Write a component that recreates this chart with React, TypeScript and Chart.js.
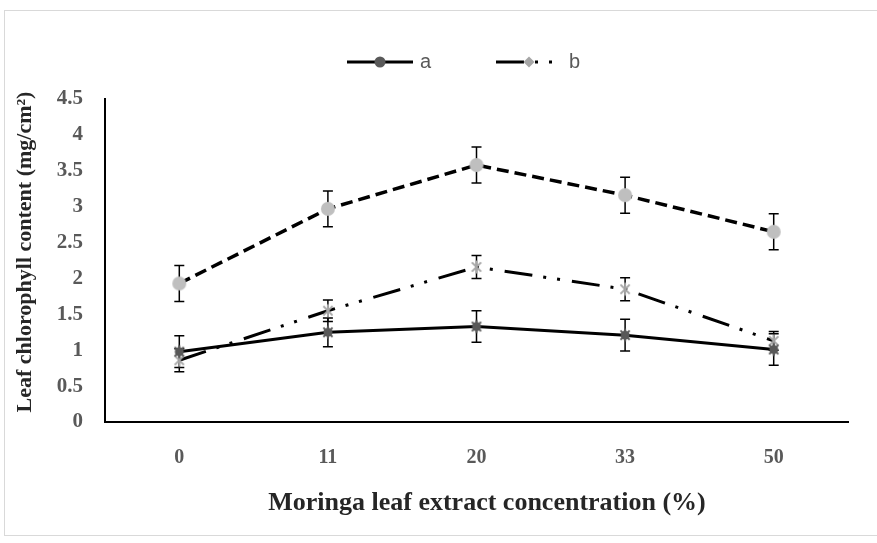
import React, { useEffect, useRef } from "react";
import { Chart, registerables } from "chart.js";

Chart.register(...registerables);

// ---- data ----
const categories = ["0", "11", "20", "33", "50"];
const seriesA = [0.98, 1.25, 1.33, 1.21, 1.01];
const errorsA = [0.22, 0.2, 0.22, 0.22, 0.22];
const seriesB = [0.86, 1.55, 2.16, 1.85, 1.13];
const errorsB = [0.16, 0.15, 0.16, 0.16, 0.13];
const seriesC = [1.93, 2.97, 3.58, 3.16, 2.65];
const errorsC = [0.25, 0.25, 0.25, 0.25, 0.25];
const legendLabels = ["a", "b"];
const yMin = 0;
const yMax = 4.5;
const yStep = 0.5;
const xTitle = "Moringa leaf extract concentration (%)";
const yTitle = "Leaf chlorophyll content (mg/cm\u00B2)";

const SERIF = "'Liberation Serif', 'Times New Roman', serif";
const SANS = "'Liberation Sans', Arial, sans-serif";
const DASH_B = [28, 11, 3, 11, 3, 12];
const DASH_C = [12, 6];

function makeMarker(kind: string): HTMLCanvasElement {
  const c = document.createElement("canvas");
  c.width = 16;
  c.height = 16;
  const ctx = c.getContext("2d")!;
  const cx = 8, cy = 8;
  if (kind === "circleLight") {
    ctx.fillStyle = "#bfbfbf";
    ctx.beginPath();
    ctx.arc(cx, cy, 7, 0, Math.PI * 2);
    ctx.fill();
  } else {
    const col = kind === "starDark" ? "#595959" : "#a6a6a6";
    if (kind === "starDark") {
      ctx.fillStyle = col;
      ctx.beginPath();
      ctx.arc(cx, cy, 4.5, 0, Math.PI * 2);
      ctx.fill();
    }
    ctx.strokeStyle = col;
    ctx.lineWidth = 2;
    const r = 6.5;
    const d = r * Math.SQRT1_2;
    ctx.beginPath();
    ctx.moveTo(cx - d, cy - d); ctx.lineTo(cx + d, cy + d);
    ctx.moveTo(cx + d, cy - d); ctx.lineTo(cx - d, cy + d);
    ctx.moveTo(cx, cy - r); ctx.lineTo(cx, cy + r);
    ctx.stroke();
  }
  return c;
}

const errorBarPlugin = {
  id: "errorBars",
  beforeDatasetsDraw(chart: any) {
    const ctx = chart.ctx;
    const xs = chart.scales.x;
    const ys = chart.scales.y;
    ctx.save();
    ctx.strokeStyle = "#000";
    ctx.lineWidth = 1.5;
    chart.data.datasets.forEach((ds: any) => {
      const errs: number[] = ds.errors || [];
      ds.data.forEach((v: number, i: number) => {
        const e = errs[i];
        if (e == null) return;
        const x = xs.getPixelForValue(i);
        const yt = ys.getPixelForValue(v + e);
        const yb = ys.getPixelForValue(v - e);
        ctx.beginPath();
        ctx.moveTo(x, yt); ctx.lineTo(x, yb);
        ctx.moveTo(x - 5, yt); ctx.lineTo(x + 5, yt);
        ctx.moveTo(x - 5, yb); ctx.lineTo(x + 5, yb);
        ctx.stroke();
      });
    });
    ctx.restore();
  },
};

const titlesPlugin = {
  id: "axisTitles",
  afterDraw(chart: any) {
    const ctx = chart.ctx;
    ctx.save();
    ctx.fillStyle = "#262626";
    ctx.textAlign = "center";
    ctx.textBaseline = "middle";
    ctx.font = `bold 26px ${SERIF}`;
    ctx.fillText(xTitle, 487, 503);
    ctx.translate(25, 252);
    ctx.rotate(-Math.PI / 2);
    ctx.font = `bold 22px ${SERIF}`;
    ctx.fillText(yTitle, 0, 0);
    ctx.restore();
  },
};

const legendPlugin = {
  id: "customLegend",
  afterDraw(chart: any) {
    const ctx = chart.ctx;
    const y = 62;
    ctx.save();
    // item a
    let x0 = 347;
    ctx.strokeStyle = "#000";
    ctx.lineWidth = 3;
    ctx.setLineDash([]);
    ctx.beginPath();
    ctx.moveTo(x0, y); ctx.lineTo(x0 + 66, y);
    ctx.stroke();
    ctx.fillStyle = "#595959";
    ctx.beginPath();
    ctx.arc(x0 + 33, y, 5.5, 0, Math.PI * 2);
    ctx.fill();
    ctx.font = `20px ${SANS}`;
    ctx.fillStyle = "#595959";
    ctx.textBaseline = "middle";
    ctx.textAlign = "left";
    ctx.fillText(legendLabels[0], x0 + 73, y);
    // item b
    x0 = 496;
    ctx.setLineDash(DASH_B);
    ctx.beginPath();
    ctx.moveTo(x0, y); ctx.lineTo(x0 + 66, y);
    ctx.stroke();
    ctx.setLineDash([]);
    ctx.fillStyle = "#a6a6a6";
    ctx.beginPath();
    const dx = x0 + 33;
    ctx.moveTo(dx, y - 5.5); ctx.lineTo(dx + 5.5, y); ctx.lineTo(dx, y + 5.5); ctx.lineTo(dx - 5.5, y);
    ctx.closePath();
    ctx.fill();
    ctx.fillStyle = "#595959";
    ctx.fillText(legendLabels[1], x0 + 73, y);
    ctx.restore();
  },
};

export default function App() {
  const ref = useRef<HTMLCanvasElement | null>(null);
  useEffect(() => {
    document.body.style.margin = "0";
    if (!ref.current) return;
    const chart = new Chart(ref.current, {
      type: "line",
      data: {
        labels: categories,
        datasets: [
          {
            label: legendLabels[0],
            data: seriesA,
            errors: errorsA,
            borderColor: "#000",
            borderWidth: 3,
            pointStyle: makeMarker("starDark"),
            pointRadius: 7,
            tension: 0,
            fill: false,
          } as any,
          {
            label: legendLabels[1],
            data: seriesB,
            errors: errorsB,
            borderColor: "#000",
            borderWidth: 3,
            borderDash: DASH_B,
            pointStyle: makeMarker("starLight"),
            pointRadius: 7,
            tension: 0,
            fill: false,
          } as any,
          {
            label: "c",
            data: seriesC,
            errors: errorsC,
            borderColor: "#000",
            borderWidth: 3.5,
            borderDash: DASH_C,
            pointStyle: makeMarker("circleLight"),
            pointRadius: 7,
            tension: 0,
            fill: false,
          } as any,
        ],
      },
      options: {
        animation: false,
        responsive: false,
        layout: { padding: { top: 99, right: 29, left: 0, bottom: 0 } },
        plugins: { legend: { display: false }, tooltip: { enabled: false } },
        scales: {
          x: {
            offset: true,
            grid: { display: false, drawTicks: false },
            border: { display: true, color: "#000", width: 2 },
            ticks: {
              color: "#595959",
              font: { family: SERIF, size: 20, weight: "bold" },
              padding: 24,
              maxRotation: 0,
              autoSkip: false,
            },
            title: { display: false },
            afterFit: (s: any) => { s.height = 121; },
          },
          y: {
            min: yMin,
            max: yMax,
            grid: { display: false, drawTicks: false },
            border: { display: true, color: "#000", width: 2 },
            ticks: {
              stepSize: yStep,
              color: "#595959",
              font: { family: SERIF, size: 21, weight: "bold" },
              padding: 22,
              callback: (v: any) => String(v),
            },
            title: { display: false },
            afterFit: (s: any) => { s.width = 105; },
          },
        },
      } as any,
      plugins: [errorBarPlugin, legendPlugin, titlesPlugin],
    });
    return () => chart.destroy();
  }, []);

  return (
    <div style={{ position: "relative", width: 877, height: 543, overflow: "hidden", background: "#fff" }}>
      <div
        style={{
          position: "absolute",
          left: 4,
          top: 10,
          width: 890,
          height: 526,
          border: "1px solid #d9d9d9",
          boxSizing: "border-box",
        }}
      />
      <canvas ref={ref} width={877} height={543} style={{ position: "absolute", left: 0, top: 0 }} />
    </div>
  );
}
